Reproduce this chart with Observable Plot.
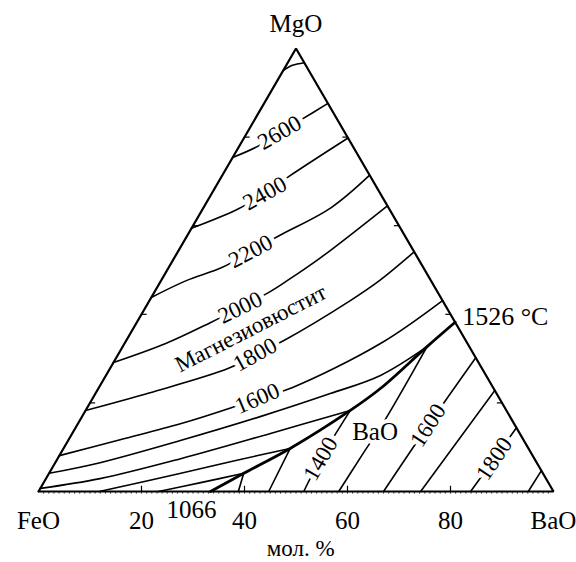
<!DOCTYPE html>
<html><head><meta charset="utf-8">
<script src="https://cdn.jsdelivr.net/npm/d3@7"></script>
<script src="https://cdn.jsdelivr.net/npm/@observablehq/plot@0.6"></script>
<style>body{margin:0;background:#fff}</style>
</head><body><div id="chart"></div>
<script>
// Compositions as [BaO mol.%, MgO mol.%] (FeO = rest)
// Isotherms in the magnesiowüstite field
const c2800 = [[0,95],[1.2,96.2],[3.2,96.8]];
const c2600 = [[0,75.4],[3.6,77.9],[6.3,81.0],[9.1,84.0],[12.4,87.6]];
const c2400 = [[0,59.4],[6.8,63.7],[10.3,67.3],[13.2,71.3],[20.2,79.8]];
const c2200 = [[0,43.8],[4.9,47.6],[10.4,50.6],[14.1,54.2],[17.9,57.8],[24.8,64.1],[28.6,71.4]];
const c2000 = [[0,29.1],[8.0,33.4],[14.3,38.1],[18.4,41.5],[22.2,44.9],[24.5,47.6],[28.4,52.8],[35.5,64.5]];
const c1800 = [[0,18.3],[10.5,22.3],[23.0,27.8],[26.6,30.9],[30.6,34.1],[39.0,43.1],[42.4,47.6],[45.9,54.1]];
const c1600 = [[0,8.1],[10.0,11.7],[19.9,15.3],[27.5,18.7],[32.0,21.0],[37.6,23.5],[49.7,33.4],[56.9,43.1]];
const c1500 = [[0,4.1],[8.7,6.5],[21.8,11.5],[34.6,16.9],[45.6,22.1],[53.3,26.2],[59.1,32.7]];
const c1400 = [[0,0.7],[10.5,2.9],[23.9,7.4],[38.5,13.1],[51.4,18.3]];
const c1300 = [[11.8,0],[25.6,4.1],[34.8,7.0],[44.0,9.7]];
const c1200 = [[23.3,0],[30.5,2.0],[37.8,4.1]];
// Isotherms in the BaO field
const b1200 = [[37.8,4.1],[38.8,0]];
const b1300 = [[44.0,9.7],[44.7,0]];
const b1400 = [[51.4,18.3],[51.1,7.4],[51.5,0]];
const b1500 = [[59.1,32.7],[59.2,16.0],[58.7,8.0],[58.3,0]];
const b1600 = [[69.8,30.2],[68.2,14.9],[67.0,0]];
const b1700 = [[77.2,22.8],[74.2,0]];
const b1800 = [[85.6,14.4],[84.8,7.4],[83.9,0]];
const b1900 = [[95.3,4.7],[95.1,0]];
// Field boundary (1526 °C on MgO–BaO side to 1066 °C eutectic on FeO–BaO side)
const boundary = [[33.4,0],[37.8,4.1],[44.0,9.7],[51.4,18.3],[54.8,23.3],[59.1,32.7],[61.8,38.2]];
// Triangle
const triangle = [[0,0],[100,0],[0,100],[0,0]];
const axisTicks = [20,40,60,80];
const minorTicks = d3.range(1,100);

// Contour labels
const labelText  = ["2600","2400","2200","2000","1800","1600","1400","1600","1800"];
const labelBaO   = [6.3,10.3,14.1,18.4,26.6,32.0,51.1,68.2,84.8];
const labelMgO   = [81.0,67.3,54.2,41.5,30.9,21.0,7.4,14.9,7.4];
const labelAngle = [-30,-29,-28,-26,-29,-23,-60,-57,-56];
const labels = labelText.map((t,i)=>({t, p:[labelBaO[i],labelMgO[i]], a:labelAngle[i]}));

const magContours = [c2800,c2600,c2400,c2200,c2000,c1800,c1600,c1500,c1400,c1300,c1200];
const baoContours = [b1200,b1300,b1400,b1500,b1600,b1700,b1800,b1900];

const X = d => d[0] + d[1]/2;
const Y = d => d[1];
const font = "'Liberation Serif','DejaVu Serif',serif";

const marks = [];
for (const c of [...magContours, ...baoContours]) {
  marks.push(Plot.line(c, {x: X, y: Y, curve: "catmull-rom", stroke: "black", strokeWidth: 1.6}));
}
marks.push(Plot.line(boundary, {x: X, y: Y, curve: "catmull-rom", stroke: "black", strokeWidth: 2.8}));
// labels with white halo to break lines
marks.push(Plot.text(labels, {x: d=>X(d.p), y: d=>Y(d.p), text: "t", rotate: d=>d.a, fontSize: 23,
  fill: "black", stroke: "white", strokeWidth: 9, paintOrder: "stroke"}));
marks.push(Plot.text([[22.8,36.8]], {x: X, y: Y, text: ["Магнезиовюстит"], rotate: -27, fontSize: 23, fill: "black"}));
marks.push(Plot.text([[58.6,13.5]], {x: X, y: Y, text: ["BaO"], fontSize: 25, fill: "black", stroke: "white", strokeWidth: 8, paintOrder: "stroke"}));
// triangle
marks.push(Plot.line(triangle, {x: X, y: Y, stroke: "black", strokeWidth: 2.2, strokeLinejoin: "miter"}));
// ticks
marks.push(Plot.link(axisTicks, {x1: d=>d, y1: 0, x2: d=>d, y2: 1.3, stroke: "black", strokeWidth: 1.2}));
marks.push(Plot.link(minorTicks, {x1: d=>d, y1: 0, x2: d=>d, y2: -0.5, stroke: "black", strokeWidth: 0.7}));
marks.push(Plot.link(axisTicks, {x1: d=>d/2, y1: d=>d, x2: d=>d/2+1, y2: d=>d, stroke: "black", strokeWidth: 1.2}));
marks.push(Plot.link(axisTicks, {x1: d=>100-d/2, y1: d=>d, x2: d=>100-d/2-1, y2: d=>d, stroke: "black", strokeWidth: 1.2}));
// axis texts
marks.push(Plot.text(axisTicks, {x: d=>d, y: 0, text: d=>String(d), dy: 29, fontSize: 25, fill: "black"}));
marks.push(Plot.text(["FeO","BaO"], {x: d=> d==="FeO"?0:100, y: 0, text: d=>d, dy: 29, fontSize: 25, fill: "black"}));
marks.push(Plot.text(["MgO"], {x: 50, y: 100, text: d=>d, dy: -25, fontSize: 25, fill: "black"}));
marks.push(Plot.text(["мол. %"], {x: 50.9, y: 0, text: d=>d, dy: 57, fontSize: 23, fill: "black"}));
marks.push(Plot.text([boundary[boundary.length-1]], {x: X, y: Y, text: ["1526 °C"], dx: 7, dy: -6, textAnchor: "start", fontSize: 26, fill: "black"}));
marks.push(Plot.text([boundary[0]], {x: X, y: Y, text: ["1066"], dx: -19, dy: 18, fontSize: 25, fill: "black"}));

const plot = Plot.plot({
  width: 576, height: 562, margin: 0,
  x: {domain: [0,100], range: [38,553], axis: null},
  y: {domain: [0,100], range: [491,48], axis: null},
  style: {fontFamily: font, background: "white", color: "black"},
  marks
});
document.getElementById("chart").append(plot);
</script>
</body></html>
